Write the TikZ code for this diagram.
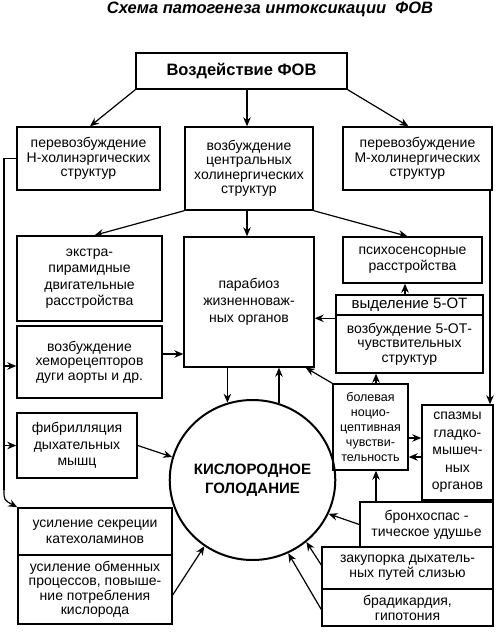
\documentclass[tikz,border=0pt]{standalone}
\usepackage{fontspec}
\setmainfont{Liberation Sans}
\usetikzlibrary{arrows.meta,shapes.geometric,calc}
\begin{document}
\begin{tikzpicture}[x=1pt,y=-1pt,
  box/.style={draw, line width=1.4pt, align=center, inner sep=0pt,
    font=\fontsize{14}{14.5}\selectfont},
  arr/.style={-{Stealth[length=9pt,width=7.5pt]}, line width=1.2pt}]
\useasboundingbox (0,0) rectangle (497,634);

\node[font=\bfseries\itshape\fontsize{16.5}{16}\selectfont] (title) at (270,9) {Схема патогенеза интоксикации\ \ ФОВ};

\node[box, font=\bfseries\fontsize{16.5}{17}\selectfont, minimum width=211pt, minimum height=36pt] (top) at (241.5,71) {Воздействие ФОВ};

\node[box, minimum width=143pt, minimum height=63pt] (L2) at (88.5,158.5) {перевозбуждение\\Н-холинэргических\\структур};
\node[box, minimum width=128pt, minimum height=83pt] (C2) at (249,168.5) {возбуждение\\центральных\\холинергических\\структур};
\node[box, minimum width=149pt, minimum height=63pt] (R2) at (417.5,158.5) {перевозбуждение\\М-холинергических\\структур};

\node[box, font=\fontsize{14}{16.5}\selectfont, minimum width=145pt, minimum height=85pt] (ex) at (89.5,278.5) {экстра-\\пирамидные\\двигательные\\расстройства};
\node[box, font=\fontsize{14}{17}\selectfont, minimum width=130pt, minimum height=130pt] (para) at (249,302) {парабиоз\\жизненноваж-\\ных органов};
\node[box, font=\fontsize{14}{16}\selectfont, minimum width=139pt, minimum height=46pt] (psy) at (412.5,260) {психосенсорные\\расстройства};

\node[box, font=\fontsize{15}{15}\selectfont, minimum width=147pt, minimum height=20pt] (otA) at (409.5,305) {выделение 5-ОТ};
\node[box, minimum width=147pt, minimum height=58pt] (otB) at (409.5,344) {возбуждение 5-ОТ-\\чувствительных\\структур};

\node[box, minimum width=145pt, minimum height=72pt] (chemo) at (89.5,362) {возбуждение\\хеморецепторов\\дуги аорты и др.};
\node[box, font=\fontsize{14}{16.5}\selectfont, minimum width=120pt, minimum height=65pt] (fib) at (77,445.5) {фибрилляция\\дыхательных\\мышц};

\node[draw, ellipse, line width=2pt, minimum width=150pt, minimum height=160pt, inner sep=0pt, align=center,
  font=\bfseries\fontsize{15}{19}\selectfont] (circ) at (252.5,480) {КИСЛОРОДНОЕ\\ГОЛОДАНИЕ};

\node[box, font=\fontsize{12.5}{15}\selectfont, minimum width=75pt, minimum height=86pt] (pain) at (370.5,427) {болевая\\ноцио-\\цептивная\\чувстви-\\тельность};
\node[box, font=\fontsize{14}{17.5}\selectfont, minimum width=71pt, minimum height=95pt] (spasm) at (457.5,452.5) {спазмы\\гладко-\\мышеч-\\ных\\органов};

\node[box, font=\fontsize{14}{16}\selectfont, minimum width=133pt, minimum height=45pt] (broncho) at (426.5,524.5) {бронхоспас -\\тическое удушье};
\node[box, font=\fontsize{14}{15}\selectfont, minimum width=171pt, minimum height=42pt] (zak) at (407.5,568) {закупорка дыхатель-\\ных путей слизью};
\node[box, font=\fontsize{14}{15}\selectfont, minimum width=171pt, minimum height=37pt] (brad) at (407.5,607.5) {брадикардия,\\гипотония};

\node[box, font=\fontsize{14}{16}\selectfont, minimum width=154pt, minimum height=47pt] (usa) at (95,531.5) {усиление секреции\\катехоламинов};
\node[box, minimum width=154pt, minimum height=69pt] (usb) at (95,589.5) {усиление обменных\\процессов, повыше-\\ние потребления\\кислорода};

% helper coordinates
\coordinate (lx) at (4,0);
\coordinate (lbend) at (4,490);
\coordinate (rx) at (490,0);
\coordinate (cx) at (247,0);
\coordinate (ox) at (405,0);
\coordinate (px) at (376,0);
\coordinate (p5) at ($(otB.north west)+(0,4)$);
\coordinate (c5) at ($(chemo.east)+(0,-8)$);
\coordinate (c6) at ($(chemo.west)+(0,4)$);
\coordinate (ps1) at ($(pain.east)+(0,11)$);
\coordinate (ps2) at ($(pain.east)+(0,30)$);

% top level
\draw[arr] (top.south west) -- ($(L2.north)+(1.5,0)$);
\draw[arr] (top.south -| cx) -- (C2.north -| cx);
\draw[arr] (top.south east) -- ($(R2.north)+(-9,0)$);

% from central
\draw[arr] (C2.south west) -- ($(ex.north)+(5,0)$);
\draw[arr] (C2.south -| cx) -- (para.north -| cx);
\draw[arr] (C2.south east) -- ($(psy.north)+(-5,0)$);

% 5-OT
\draw[arr] (otA.north -| ox) -- (psy.south -| ox);
\draw[arr] (p5) -- (p5 -| para.east);

% left
\draw[arr] (c5) -- (c5 -| para.west);
\draw[arr] (fib.east) -- (circ.164);
\draw[line width=1.2pt] (L2.west) -| (lbend);
\draw[arr] (lbend) .. controls (4,500) .. (usa.north west);
\draw[arr] (c6 -| lx) -- (c6);
\draw[arr] (fib.west -| lx) -- (fib.west);

% parabiosis <-> circle
\draw[arr] (circ.108 |- para.south) -- (circ.108);
\draw[arr] (circ.71) -- (circ.71 |- para.south);

% pain
\draw[arr] (pain.north west) -- ($(para.south east)+(-9,0)$);
\draw[arr] (pain.north -| px) -- (otB.south -| px);
\draw[arr] (ps1) -- (ps1 -| spasm.west);
\draw[arr] (ps2 -| spasm.west) -- (ps2);

% right line
\draw[arr] (R2.south -| rx) -- (spasm.north -| rx);

% bottom right
\draw[arr] (broncho.north -| px) -- (pain.south -| px);
\draw[arr] (broncho.west) -- (circ.-24);
\draw[arr] ($(zak.west)+(0,-3)$) -- (circ.-49);
\draw[arr] ($(brad.west)+(0,2)$) -- (circ.-64);
\draw[arr] ($(usb.east)+(0,5.5)$) -- (circ.-126);
\end{tikzpicture}
\end{document}
